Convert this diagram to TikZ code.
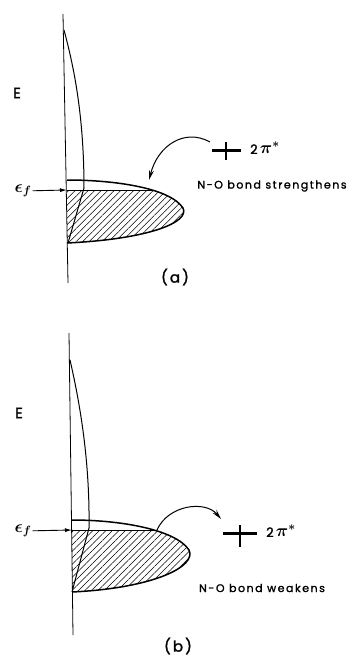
\documentclass[tikz,border=0pt]{standalone}
\usepackage{fontspec}
\newfontfamily\lettering[LetterSpace=14, FakeBold=1.6]{Poppins}
\usepackage{tikz}
\usetikzlibrary{positioning, arrows.meta, patterns.meta}

\begin{document}
\begin{tikzpicture}[x=1pt, y=-1pt,
    lbl/.style={font=\lettering\fontsize{11}{13}\selectfont, inner sep=0pt},
    pilbl/.style={font=\lettering\fontsize{13}{15}\selectfont\boldmath, inner sep=0pt},
    biglbl/.style={font=\lettering\fontsize{15}{17}\selectfont, inner sep=0pt},
    epslbl/.style={font=\fontsize{18}{20}\selectfont\boldmath, inner sep=1pt},
    axisline/.style={line width=0.8pt},
    band/.style={line width=1pt},
    dos/.style={line width=1.5pt},
    hatch/.style={pattern={Lines[angle=45, distance=4.6pt, line width=0.5pt]}},
    fermi/.style={-{Latex[length=7pt, width=4pt]}, line width=0.9pt},
    level/.style={line width=3pt},
    tick/.style={line width=1.5pt},
    arr/.style={-{Stealth[length=10pt, width=5pt]}, line width=1pt},
  ]
  \useasboundingbox (0,0) rectangle (359,656);

  % (a)
  \draw[axisline] (63,14) -- (68,283);
  \draw[band] (64,30) .. controls (72,60) and (84,110) .. (84,188) -- (68,243);
  \begin{scope}
    \clip (67,180) .. controls (115,180) and (170,188) .. (183,208)
          .. controls (190,222) and (150,239) .. (67,243) -- cycle;
    \fill[hatch] (60,190) rectangle (200,250);
    \draw[axisline] (60,190) -- (200,190);
  \end{scope}
  \draw[dos] (67,180) .. controls (115,180) and (170,188) .. (183,208)
        .. controls (190,222) and (150,239) .. (67,243);
  \node[biglbl] (ea) at (17,93) {E};
  \node[epslbl] (epsa) at (23,191) {$\epsilon_f$};
  \coordinate (fla) at (67,190);
  \draw[fermi] (epsa) -- (fla);
  \draw[level] (212,150) -- (241,150);
  \draw[tick] (226,142) -- (226,160);
  \node[pilbl, anchor=west] (pia) at (250,148) {2\,{\fontsize{17}{19}\selectfont$\pi^{\ast}$}};
  \coordinate (srca) at (210,142);
  \coordinate (tipa) at (149,180);
  \draw[arr] (srca) .. controls (185,128) and (158,145) .. (tipa);
  \node[lbl] (noa) at (272,186) {N-O bond strengthens};
  \node[biglbl] (capa) at (175,277) {(a)};

  % (b)
  \draw[axisline] (69,333) -- (73,635);
  \draw[band] (70,360) .. controls (78,395) and (90,455) .. (89,528) -- (72,592);
  \begin{scope}
    \clip (72,520) .. controls (122,520) and (176,530) .. (189,550)
          .. controls (197,566) and (155,588) .. (72,592) -- cycle;
    \fill[hatch] (60,530) rectangle (210,600);
    \draw[axisline] (60,530) -- (210,530);
  \end{scope}
  \draw[dos] (72,520) .. controls (122,520) and (176,530) .. (189,550)
        .. controls (197,566) and (155,588) .. (72,592);
  \node[biglbl] (eb) at (19,413) {E};
  \node[epslbl] (epsb) at (23,531) {$\epsilon_f$};
  \coordinate (flb) at (72,530);
  \draw[fermi] (epsb) -- (flb);
  \draw[level] (223,533) -- (257,533);
  \draw[tick] (240,525) -- (240,547);
  \node[pilbl, anchor=west] (pib) at (266,531) {2\,{\fontsize{17}{19}\selectfont$\pi^{\ast}$}};
  \coordinate (srcb) at (157,530);
  \coordinate (tipb) at (221,519);
  \draw[arr] (srcb) .. controls (168,505) and (205,500) .. (tipb);
  \node[lbl] (nob) at (262,588) {N-O bond weakens};
  \node[biglbl] (capb) at (178,646) {(b)};
\end{tikzpicture}
\end{document}
